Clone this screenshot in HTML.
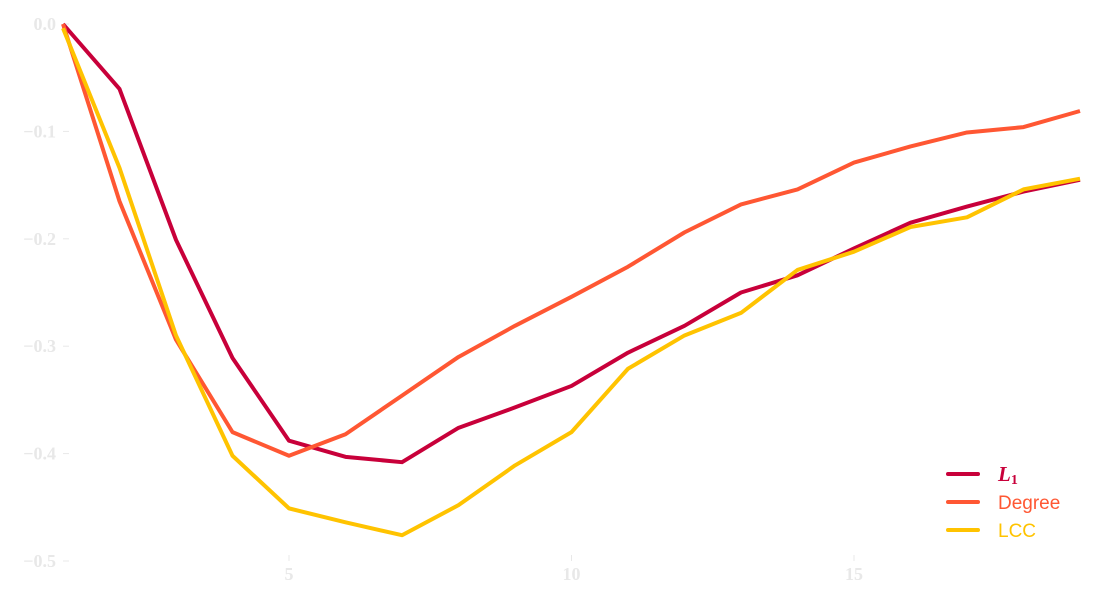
<!DOCTYPE html>
<html><head><meta charset="utf-8"><style>
body{margin:0;background:#fff}
svg{display:block}
.tk{font-family:"Liberation Serif",serif;font-weight:bold;font-size:18px;fill:#e8e8e8}
</style></head><body>
<svg id="c" width="1100" height="600"></svg>
<script>
const xs=[1,2,3,4,5,6,7,8,9,10,11,12,13,14,15,16,17,18,19];
const l1=[0,-0.0605,-0.201,-0.311,-0.388,-0.403,-0.408,-0.376,-0.357,-0.337,-0.306,-0.281,-0.250,-0.234,-0.209,-0.185,-0.170,-0.156,-0.145];
const degree=[0,-0.165,-0.294,-0.380,-0.402,-0.382,-0.346,-0.310,-0.281,-0.254,-0.226,-0.194,-0.168,-0.154,-0.129,-0.114,-0.101,-0.096,-0.081];
const lcc=[-0.004,-0.134,-0.290,-0.402,-0.451,-0.464,-0.476,-0.448,-0.411,-0.380,-0.321,-0.290,-0.269,-0.229,-0.212,-0.189,-0.180,-0.154,-0.144];
const yTicks=[0,-0.1,-0.2,-0.3,-0.4,-0.5];
const yLabels=["0.0","\u22120.1","\u22120.2","\u22120.3","\u22120.4","\u22120.5"];
const xTicks=[5,10,15];
const X=v=>63+(v-1)*56.5;
const Y=v=>24-v*1074;
const svg=document.getElementById('c');
const NS='http://www.w3.org/2000/svg';
function mk(t,a){const e=document.createElementNS(NS,t);for(const k in a)e.setAttribute(k,a[k]);svg.appendChild(e);return e;}
yTicks.forEach((v,i)=>{
  const t=mk('line',{x1:63,x2:69,y1:Y(v),y2:Y(v),stroke:'#e8e8e8'});
  
  
  const l=mk('text',{x:56,y:Y(v)+6,'text-anchor':'end',class:'tk'});
  l.textContent=yLabels[i];
  
  
});
xTicks.forEach(v=>{
  const t=mk('line',{x1:X(v),x2:X(v),y1:555,y2:561,stroke:'#e8e8e8'});
  
  
  const l=mk('text',{x:X(v),y:580,'text-anchor':'middle',class:'tk'});
  l.textContent=v;
  
  
});
const series=[[l1,'#c8003a','series-l1'],[degree,'#ff5733','series-degree'],[lcc,'#ffc300','series-lcc']];
series.forEach(([d,c,n])=>{
  const p=mk('polyline',{points:d.map((v,i)=>X(xs[i])+','+Y(v)).join(' '),fill:'none',stroke:c,'stroke-width':4,'stroke-linejoin':'round'});
  
  
});
const leg=[['#c8003a','L',477],['#ff5733','Degree',505],['#ffc300','LCC',533]];
leg.forEach(([c,t,y],i)=>{
  const ln=mk('line',{x1:948,x2:978,y1:y-3,y2:y-3,stroke:c,'stroke-width':4,'stroke-linecap':'round'});
  
  
  const tx=mk('text',{x:998,y:y+4,fill:c,'font-size':i==0?21:19,'font-family':i==0?'Liberation Serif,serif':'Liberation Sans,sans-serif','font-style':i==0?'italic':'normal','font-weight':i==0?'bold':'normal'});
  tx.textContent=t;
  if(i==0){const s=document.createElementNS(NS,'tspan');s.setAttribute('font-size','14');s.setAttribute('dy','3');s.setAttribute('font-style','normal');s.textContent='1';tx.appendChild(s);}
  
  
});
</script>
</body></html>
